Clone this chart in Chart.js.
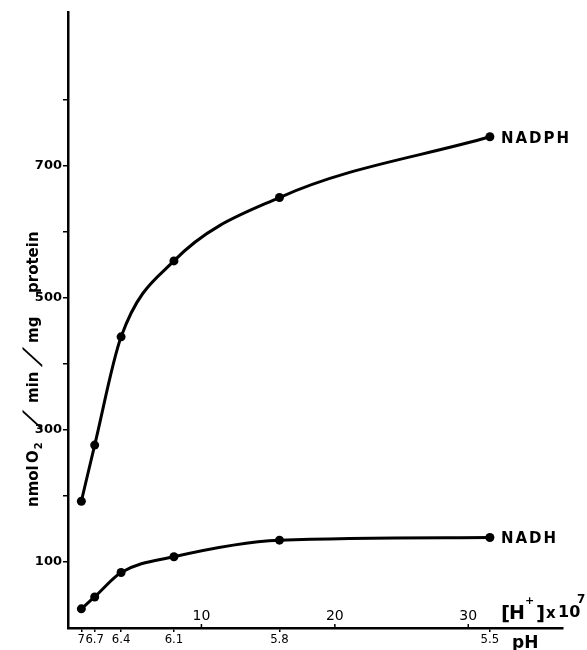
<!DOCTYPE html>
<html>
<head>
<meta charset="utf-8">
<script src="https://cdn.jsdelivr.net/npm/chart.js@4/dist/chart.umd.min.js"></script>
<style>
  html, body { margin: 0; padding: 0; background: #fff; }
  #wrap { width: 587px; height: 650px; }
</style>
</head>
<body>
<div id="wrap"><canvas id="c" width="587" height="650"></canvas></div>
<script>
// ---- data ----
const pHLabels = ['7', '6.7', '6.4', '6.1', '5.8', '5.5'];
const hConc = [1.0, 2.0, 3.98, 7.94, 15.85, 31.62];      // [H+] x 10^7
const nadph = [192, 277, 441, 556, 652, 744];            // nmol O2/min/mg protein
const nadh = [29, 47, 84, 108, 133, 137];
const hTicks = [10, 20, 30];
const yTicks = [100, 200, 300, 400, 500, 600, 700, 800];
const yLabeled = [100, 300, 500, 700];
const seriesNames = ['NADPH', 'NADH'];

const INK = '#000';

const annot = {
  id: 'annot',
  afterDraw(chart) {
    const ctx = chart.ctx;
    const xs = chart.scales.x;
    const ca = chart.chartArea;
    ctx.save();
    ctx.fillStyle = INK;
    ctx.strokeStyle = INK;

    // upper [H+] ticks above the axis line
    ctx.font = '14px "DejaVu Sans"';
    ctx.textAlign = 'center';
    ctx.textBaseline = 'alphabetic';
    ctx.lineWidth = 1.5;
    hTicks.forEach(v => {
      const px = xs.getPixelForValue(v);
      ctx.beginPath();
      ctx.moveTo(px, ca.bottom);
      ctx.lineTo(px, ca.bottom - 4);
      ctx.stroke();
      ctx.fillText(String(v), px, ca.bottom - 8);
    });

    // [H+] x 10^7 label
    const r = ca.right;
    ctx.textAlign = 'left';
    ctx.font = 'bold 20px "DejaVu Sans"';
    ctx.fillText('[', r - 62, 620);
    ctx.font = 'bold 19px "DejaVu Sans"';
    ctx.fillText('H', r - 54, 619);
    ctx.font = 'bold 11px "DejaVu Sans"';
    ctx.fillText('+', r - 38, 604);
    ctx.font = 'bold 20px "DejaVu Sans"';
    ctx.fillText(']', r - 27, 620);
    ctx.font = 'bold 15px "DejaVu Sans"';
    ctx.fillText('x', r - 17, 618);
    ctx.font = 'bold 16px "DejaVu Sans"';
    ctx.fillText('10', r - 5, 617);
    ctx.font = 'bold 12px "DejaVu Sans"';
    ctx.fillText('7', r + 14, 603);

    // pH label
    ctx.font = 'bold 17px "DejaVu Sans"';
    ctx.fillText('pH', r - 51, 648);

    // series end labels
    ctx.font = 'bold 15px "DejaVu Sans"';
    ctx.textBaseline = 'middle';
    try { ctx.letterSpacing = '2px'; } catch (e) {}
    [0, 1].forEach(di => {
      const meta = chart.getDatasetMeta(di);
      const last = meta.data[meta.data.length - 1];
      ctx.fillText(seriesNames[di], last.x + 11, last.y + 2);
    });
    try { ctx.letterSpacing = '0px'; } catch (e) {}

    // y-axis title (rotated)
    ctx.translate(38, 507);
    ctx.rotate(-Math.PI / 2);
    ctx.textBaseline = 'alphabetic';
    ctx.textAlign = 'left';
    ctx.font = 'bold 15px "DejaVu Sans"';
    ctx.fillText('nmol', 0, 0);
    ctx.fillText('O', 44, 0);
    const oW = ctx.measureText('O').width;
    ctx.font = 'bold 10px "DejaVu Sans"';
    ctx.fillText('2', 44 + oW + 1, 4);
    const drawSlash = (x) => {
      ctx.save();
      ctx.translate(x, 2);
      ctx.transform(1, 0, -0.6, 1, 0, 0);
      ctx.font = 'bold 24px "DejaVu Sans"';
      ctx.fillText('/', 0, 0);
      ctx.restore();
    };
    drawSlash(78);
    ctx.font = 'bold 15px "DejaVu Sans"';
    ctx.fillText('min', 104, 0);
    drawSlash(141);
    ctx.font = 'bold 15px "DejaVu Sans"';
    ctx.fillText('mg', 164, 0);
    ctx.fillText('protein', 214, 0);

    ctx.restore();
  }
};

new Chart(document.getElementById('c'), {
  type: 'scatter',
  data: {
    datasets: [
      {
        label: seriesNames[0],
        data: hConc.map((x, i) => ({ x: x, y: nadph[i] })),
      },
      {
        label: seriesNames[1],
        data: hConc.map((x, i) => ({ x: x, y: nadh[i] })),
      }
    ].map(d => Object.assign(d, {
      showLine: true,
      borderColor: INK,
      borderWidth: 3,
      backgroundColor: INK,
      pointRadius: 4.5,
      pointBorderWidth: 0,
      pointBackgroundColor: INK,
      cubicInterpolationMode: 'monotone',
      clip: false
    }))
  },
  options: {
    responsive: false,
    animation: false,
    devicePixelRatio: 1,
    layout: { padding: { left: 0, right: 24, top: 12, bottom: 0 } },
    plugins: { legend: { display: false }, tooltip: { enabled: false } },
    scales: {
      x: {
        type: 'linear',
        min: 0,
        max: 37.1,
        afterBuildTicks: s => { s.ticks = hConc.map(v => ({ value: v })); },
        afterFit: s => { s.height = 22; },
        ticks: {
          autoSkip: false,
          maxRotation: 0,
          padding: 0,
          color: INK,
          font: { family: '"Liberation Sans Narrow", "DejaVu Sans Condensed", sans-serif', size: 13 },
          callback: (v, i) => pHLabels[i]
        },
        grid: { drawOnChartArea: false, drawTicks: true, tickLength: 4, color: INK, lineWidth: 1.5 },
        border: { display: true, color: INK, width: 2.5 }
      },
      y: {
        type: 'linear',
        min: 0,
        max: 933,
        afterBuildTicks: s => { s.ticks = yTicks.map(v => ({ value: v })); },
        afterFit: s => { s.width = 68; },
        ticks: {
          autoSkip: false,
          padding: 1,
          color: INK,
          font: { family: '"DejaVu Sans"', size: 13, weight: 'bold' },
          callback: v => (yLabeled.includes(v) ? String(v) : '')
        },
        grid: { drawOnChartArea: false, drawTicks: true, tickLength: 5, color: INK, lineWidth: 1.5 },
        border: { display: true, color: INK, width: 2.5 }
      }
    }
  },
  plugins: [annot]
});
</script>
</body>
</html>
